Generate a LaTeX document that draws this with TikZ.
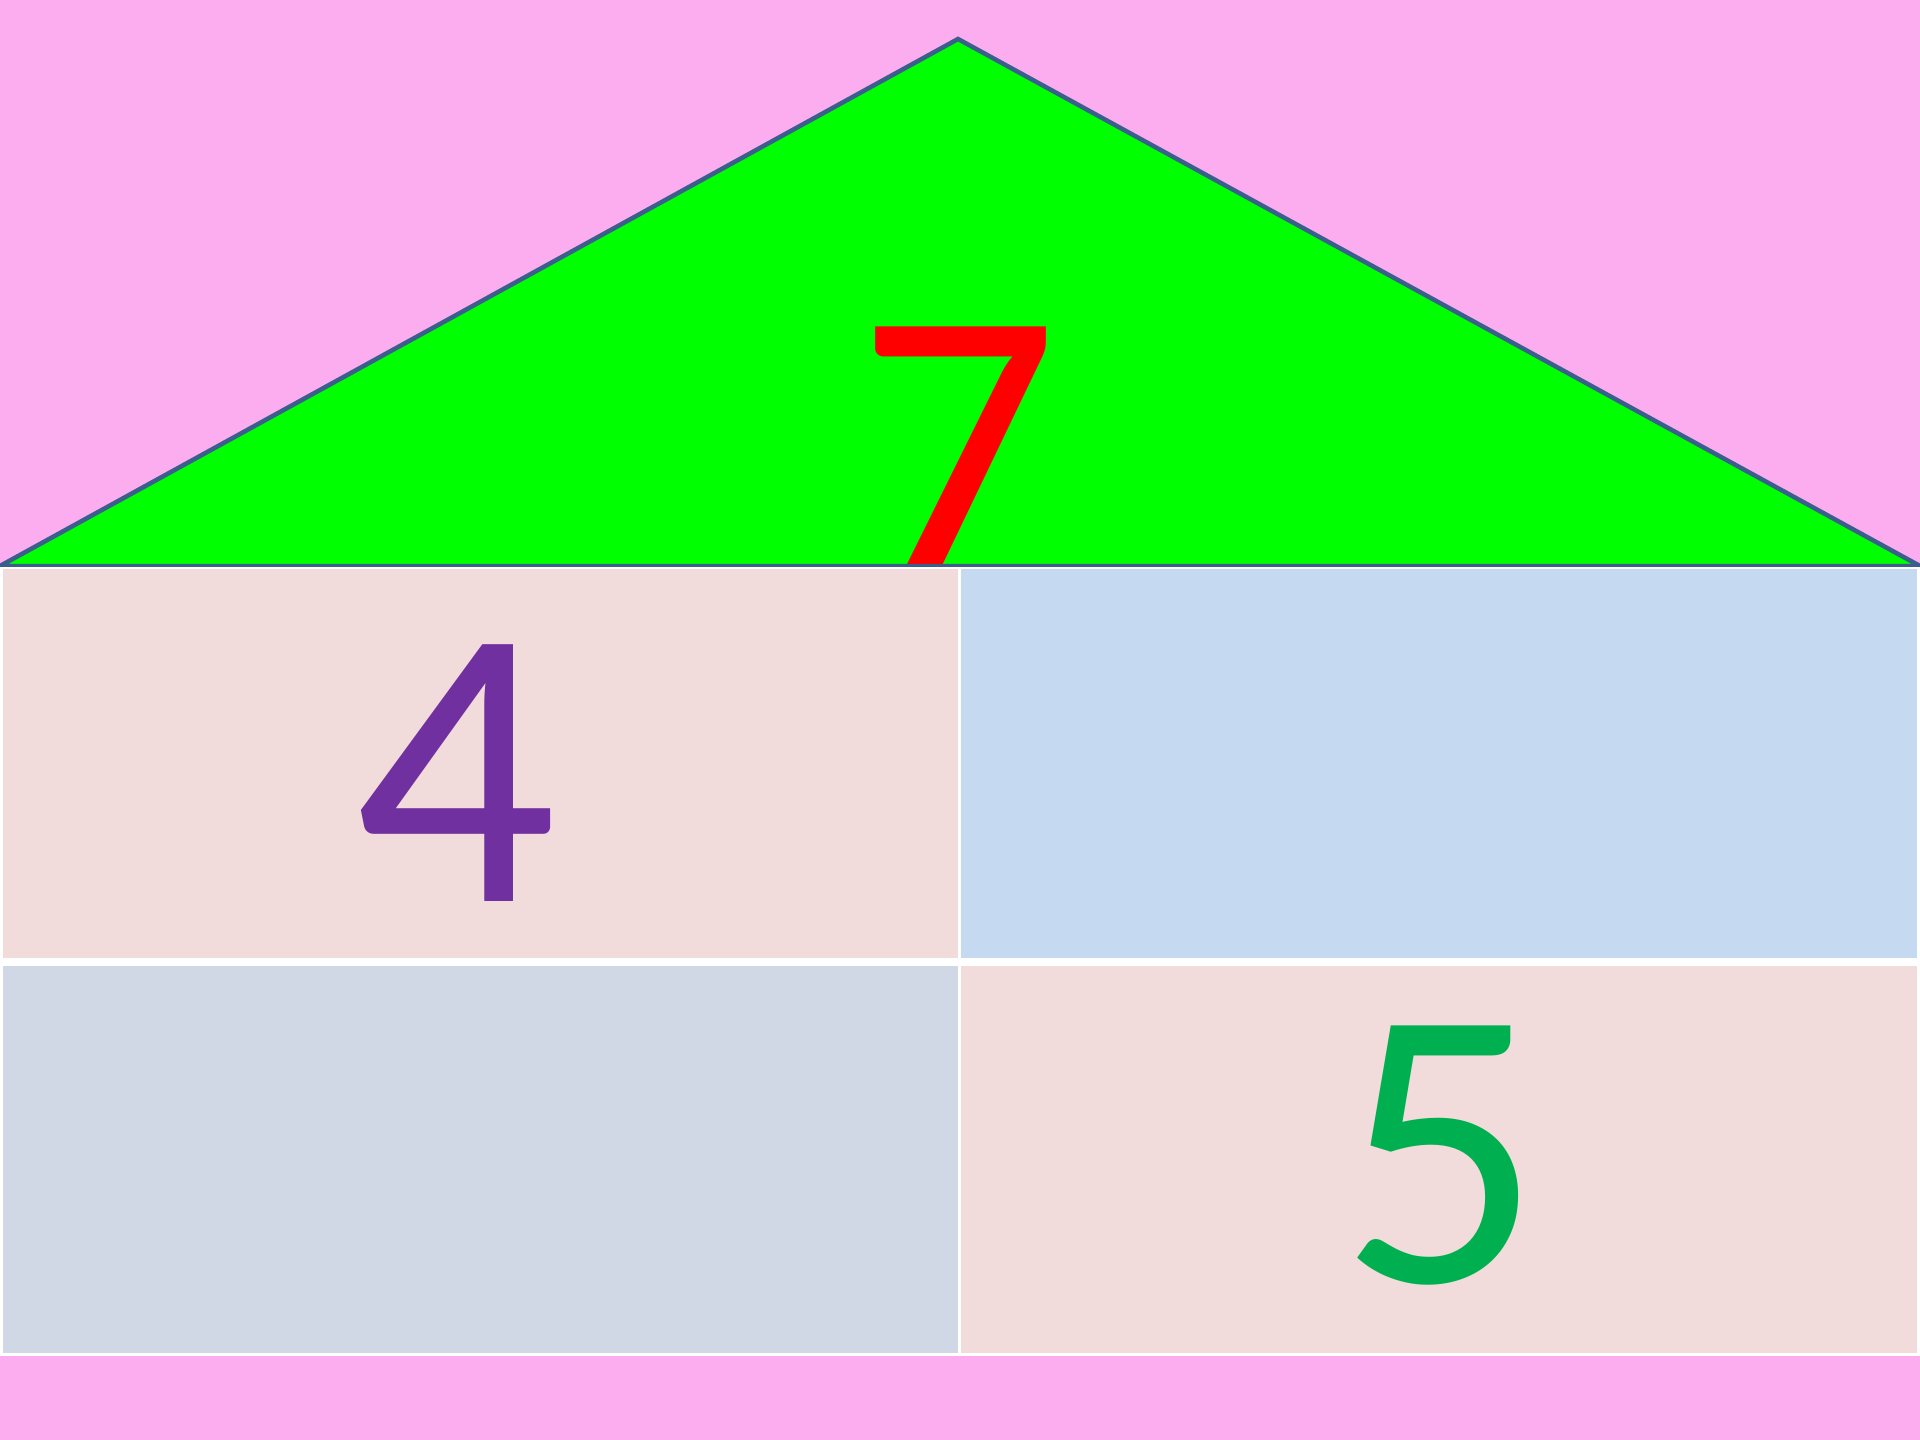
\documentclass[tikz,border=0pt]{standalone}
\usepackage{fontspec}
\setmainfont{Carlito}
\definecolor{bgpink}{HTML}{FBADEF}
\definecolor{roofgreen}{HTML}{00FF00}
\definecolor{roofline}{HTML}{3B5F8C}
\definecolor{cellrose}{HTML}{F2DCDB}
\definecolor{cellblue}{HTML}{C5D9F1}
\definecolor{cellgrey}{HTML}{D0D8E6}
\definecolor{numpurple}{HTML}{7030A0}
\definecolor{numgreen}{HTML}{00B050}
\tikzset{
  digit/.style={inner sep=0pt, outer sep=0pt, anchor=base, font=\fontsize{400}{400}\selectfont},
  cell/.style={draw=none}
}
\begin{document}
\begin{tikzpicture}[x=1pt,y=-1pt]
\useasboundingbox (0,0) rectangle (1920,1440);
\fill[bgpink] (0,0) rectangle (1920,1440);
% roof
\coordinate (apex) at (958,39);
\coordinate (bl) at (0,566);
\coordinate (br) at (1920,566);
\fill[roofgreen] (bl) -- (apex) -- (br) -- cycle;
\begin{scope}
\clip (bl) -- (apex) -- (br) -- cycle;
\node[digit, text=red] (seven) at (958,583) {7};
\end{scope}
\draw[roofline, line width=4.5pt, line join=miter] (bl) -- (apex) -- (br) -- cycle;
% grid
\fill[white] (0,567) rectangle (1920,1356);
\fill[cellrose] (3,569) rectangle (958,958);
\fill[cellblue] (961,569) rectangle (1917,958);
\fill[cellgrey] (3,966) rectangle (958,1353);
\fill[cellrose] (961,966) rectangle (1917,1353);
\node[digit, text=numpurple] (four) at (456,901) {4};
\node[digit, text=numgreen] (five) at (1441,1282) {5};
\end{tikzpicture}
\end{document}
